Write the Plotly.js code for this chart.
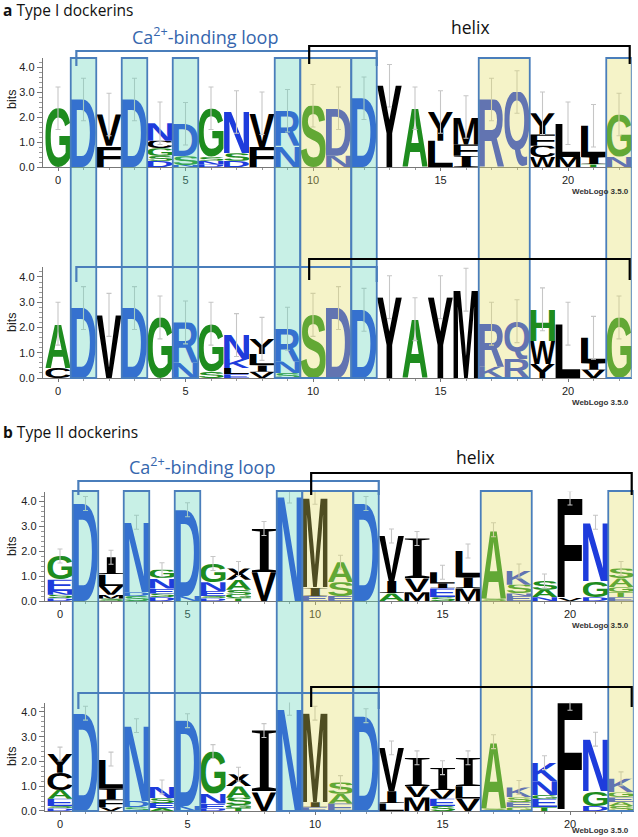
<!DOCTYPE html>
<html>
<head>
<meta charset="utf-8">
<script src="https://cdn.plot.ly/plotly-3.0.1.min.js"></script>
<style>
  body { margin: 0; background: #fff; }
  #chart { width: 638px; height: 837px; }
</style>
</head>
<body>
<div id="chart"></div>
<script>
// Logo columns, bottom to top: [residue, bits]
const positions = Array.from({length: 23}, (_, i) => i);

const typeI_top = [
  [['G', 2.35]],
  [['D', 2.7]],
  [['F', 0.85], ['V', 1.25]],
  [['D', 2.7]],
  [['D', 0.25], ['S', 0.2], ['G', 0.3], ['C', 0.3], ['N', 0.7]],
  [['N', 0.08], ['S', 0.35], ['D', 1.3]],
  [['D', 0.1], ['N', 0.15], ['S', 0.15], ['G', 1.95]],
  [['D', 0.25], ['S', 0.3], ['N', 1.65]],
  [['F', 0.8], ['V', 1.35]],
  [['N', 0.85], ['R', 1.4]],
  [['S', 2.45]],
  [['N', 0.45], ['D', 1.9]],
  [['D', 2.75]],
  [['Y', 3.25]],
  [['A', 2.35]],
  [['L', 1.05], ['Y', 1.15]],
  [['I', 0.45], ['F', 0.45], ['M', 1.1]],
  [['R', 2.7]],
  [['Q', 3.0]],
  [['W', 0.4], ['C', 0.45], ['F', 0.45], ['Y', 0.85]],
  [['M', 0.4], ['L', 1.35]],
  [['T', 0.1], ['I', 0.3], ['L', 1.25]],
  [['N', 0.4], ['G', 1.7]]
];

const typeI_bottom = [
  [['C', 0.4], ['A', 1.75]],
  [['D', 2.77]],
  [['V', 2.5]],
  [['D', 2.77]],
  [['G', 2.4]],
  [['N', 0.6], ['R', 1.6]],
  [['S', 0.25], ['G', 1.9]],
  [['E', 0.15], ['L', 0.25], ['K', 0.35], ['N', 0.95]],
  [['V', 0.25], ['I', 0.25], ['L', 0.45], ['Y', 0.6]],
  [['S', 0.2], ['N', 0.45], ['R', 1.3]],
  [['S', 2.5]],
  [['D', 2.77]],
  [['D', 2.7]],
  [['Y', 3.2]],
  [['A', 2.33]],
  [['Y', 3.2]],
  [['M', 3.5]],
  [['K', 0.45], ['R', 1.7]],
  [['R', 0.75], ['Q', 1.5]],
  [['Y', 0.55], ['W', 0.92], ['H', 1.25]],
  [['L', 2.15]],
  [['V', 0.33], ['I', 0.26], ['L', 1.0]],
  [['G', 2.4]]
];

const typeII_top = [
  [['D', 0.1], ['S', 0.15], ['N', 0.15], ['E', 0.45], ['G', 0.95]],
  [['D', 3.9]],
  [['S', 0.1], ['M', 0.15], ['V', 0.35], ['L', 0.45], ['I', 0.7]],
  [['S', 0.2], ['D', 0.15], ['N', 2.8]],
  [['D', 0.15], ['S', 0.15], ['E', 0.2], ['N', 0.4], ['G', 0.35]],
  [['N', 0.2], ['D', 3.45]],
  [['D', 0.1], ['S', 0.1], ['E', 0.2], ['N', 0.35], ['G', 0.75]],
  [['T', 0.1], ['G', 0.15], ['S', 0.2], ['A', 0.4], ['X', 0.45]],
  [['V', 1.15], ['I', 1.75]],
  [['N', 4.2]],
  [['E', 0.2], ['I', 0.35], ['M', 3.6]],
  [['E', 0.2], ['S', 0.55], ['A', 0.8]],
  [['D', 3.9]],
  [['A', 0.3], ['I', 0.5], ['V', 1.8]],
  [['M', 0.35], ['V', 0.55], ['I', 1.6]],
  [['S', 0.15], ['E', 0.35], ['I', 0.2], ['L', 0.45]],
  [['M', 0.5], ['I', 0.45], ['L', 1.05]],
  [['S', 0.1], ['A', 2.75]],
  [['E', 0.2], ['N', 0.1], ['S', 0.35], ['K', 0.55]],
  [['N', 0.15], ['A', 0.3], ['S', 0.35]],
  [['V', 0.12], ['F', 4.0]],
  [['D', 0.15], ['G', 0.65], ['N', 2.35]],
  [['E', 0.15], ['T', 0.2], ['G', 0.2], ['A', 0.35], ['S', 0.4]]
];

const typeII_bottom = [
  [['D', 0.1], ['S', 0.1], ['E', 0.3], ['A', 0.35], ['C', 0.7], ['Y', 0.75]],
  [['D', 3.95]],
  [['V', 0.15], ['F', 0.3], ['I', 0.45], ['L', 1.2]],
  [['S', 0.15], ['D', 0.25], ['N', 3.05]],
  [['A', 0.12], ['E', 0.2], ['S', 0.2], ['N', 0.45]],
  [['N', 0.2], ['D', 3.45]],
  [['D', 0.1], ['E', 0.2], ['N', 0.4], ['G', 1.7]],
  [['T', 0.12], ['G', 0.12], ['S', 0.3], ['A', 0.45], ['X', 0.5]],
  [['V', 0.75], ['I', 2.5]],
  [['N', 4.15]],
  [['E', 0.15], ['I', 0.2], ['M', 3.6]],
  [['E', 0.3], ['A', 0.4], ['S', 0.45]],
  [['D', 3.85]],
  [['L', 0.3], ['I', 0.5], ['V', 1.75]],
  [['M', 0.55], ['V', 0.45], ['I', 1.15]],
  [['S', 0.2], ['E', 0.3], ['V', 0.35], ['I', 0.9]],
  [['V', 0.5], ['L', 0.5], ['I', 1.15]],
  [['S', 0.1], ['A', 2.7]],
  [['G', 0.15], ['E', 0.2], ['S', 0.2], ['K', 0.4]],
  [['T', 0.15], ['E', 0.35], ['G', 0.15], ['N', 0.55], ['K', 0.75]],
  [['F', 4.35]],
  [['D', 0.2], ['G', 0.6], ['N', 2.1]],
  [['S', 0.2], ['A', 0.15], ['E', 0.2], ['G', 0.2], ['K', 0.55]]
];

// half length of the small-sample error bars (bits), one per logo
const errorHalf = [0.85, 0.85, 0.28, 0.28];

// highlighted columns
const cyanPositions = [1, 3, 5, 9, 12];
const yellowRanges = [[10, 11], [17, 18], [22, 22]];

const xTicks = [0, 5, 10, 15, 20];
const yTicks = [0, 1, 2, 3, 4];

// ---- colours (WebLogo hydrophobicity scheme) ----
const BLUE = '#1e3cdc', GREEN = '#1e8c1e', BLACK = '#000000';
function residueColor(ch) {
  if ('RKDENQ'.includes(ch)) return BLUE;
  if ('SGHTAP'.includes(ch)) return GREEN;
  return BLACK;
}

// ---- letter glyphs as stretched svg images ----
const ctx = document.createElement('canvas').getContext('2d');
const glyphCache = {};
function letterSrc(ch) {
  const color = residueColor(ch);
  const key = ch + color;
  if (glyphCache[key]) return glyphCache[key];
  // WebLogo's I has serifs, so use a serif face for it
  const fam = ch === 'I' ? 'Liberation Serif' : 'Liberation Sans';
  const weight = ch === 'I' ? 'normal' : 'bold';
  ctx.font = `${weight} 100px "${fam}"`;
  const m = ctx.measureText(ch);
  const l = m.actualBoundingBoxLeft, r = m.actualBoundingBoxRight;
  const a = m.actualBoundingBoxAscent, d = m.actualBoundingBoxDescent;
  const w = l + r, h = a + d;
  const svg = `<svg xmlns="http://www.w3.org/2000/svg" width="${w}" height="${h}" viewBox="${-l} ${-a} ${w} ${h}" preserveAspectRatio="none">` +
    `<text x="0" y="0" font-family="${fam}" font-weight="${weight}" font-size="100" fill="${color}">${ch}</text></svg>`;
  glyphCache[key] = 'data:image/svg+xml;base64,' + btoa(svg);
  return glyphCache[key];
}

// ---- page geometry ----
const W = 638, H = 837;
const py = p => 1 - p / H;               // pixel row -> paper y
const panels = [typeI_top, typeI_bottom, typeII_top, typeII_bottom];
const baselinePx = [167, 378, 601, 811];
const bitPx = [25, 25.25, 25, 24.75];
const zeroPx = [58, 58, 60, 60];
const colPx = 25.5;
const yMax = 4.38, xMin = -0.6, xMax = 22.5;
const sfx = i => (i === 0 ? '' : String(i + 1));

const tickFont = {family: 'Liberation Sans, Arial, sans-serif', size: 11, color: '#222'};

const layout = {
  width: W, height: H,
  margin: {l: 0, r: 0, t: 0, b: 0},
  paper_bgcolor: '#fff', plot_bgcolor: 'rgba(0,0,0,0)',
  showlegend: false,
  images: [], shapes: [], annotations: []
};
const traces = [];

panels.forEach((cols, i) => {
  const s = sfx(i);
  layout['xaxis' + s] = {
    domain: [(zeroPx[i] + xMin * colPx) / W, (zeroPx[i] + xMax * colPx) / W],
    range: [xMin, xMax], anchor: 'y' + s, automargin: false,
    tickvals: xTicks, ticks: 'outside', ticklen: 3, tickcolor: '#777',
    showline: true, linecolor: '#777', linewidth: 1,
    zeroline: false, showgrid: false, tickfont: tickFont, fixedrange: true,
    minor: {tick0: 0, dtick: 1, ticks: 'outside', ticklen: 2, tickcolor: '#999', showgrid: false}
  };
  const top = baselinePx[i] - yMax * bitPx[i];
  layout['yaxis' + s] = {
    domain: [py(baselinePx[i]), py(top)],
    range: [0, yMax], anchor: 'x' + s, automargin: false,
    tickvals: yTicks, tickformat: '.1f', ticks: 'outside', ticklen: 5, tickcolor: '#777',
    showline: true, linecolor: '#777', linewidth: 1,
    zeroline: false, showgrid: false, tickfont: tickFont, fixedrange: true,
    minor: {dtick: 0.2, ticks: 'outside', ticklen: 3, tickcolor: '#999', showgrid: false}
  };

  // stacked letters
  const totals = [];
  cols.forEach((stack, pos) => {
    let base = 0;
    stack.forEach(([ch, bits]) => {
      layout.images.push({
        source: letterSrc(ch), xref: 'x' + s, yref: 'y' + s,
        x: positions[pos] - 0.5, y: base + bits, sizex: 1.0, sizey: bits,
        xanchor: 'left', yanchor: 'top', sizing: 'stretch', layer: 'below'
      });
      base += bits;
    });
    totals.push(base);
  });

  // error bars on stack tops
  traces.push({
    type: 'scatter', mode: 'markers', x: positions, y: totals,
    xaxis: 'x' + s, yaxis: 'y' + s, hoverinfo: 'skip', cliponaxis: false,
    marker: {size: 2, color: 'rgba(0,0,0,0)'},
    error_y: {type: 'constant', value: errorHalf[i], color: '#c6c6c6', thickness: 1.1, width: 2.5}
  });
});

// ---- highlighted columns (span both logos of a group) ----
const groups = [{ax: 'x', topPx: 58, botPx: 378}, {ax: 'x3', topPx: 491, botPx: 811}];
const cyanFill = 'rgba(98,212,184,0.35)', yellowFill = 'rgba(226,221,98,0.35)', boxLine = '#4a7ebb';
groups.forEach(g => {
  const boxes = cyanPositions.map(p => [p - 0.5, p + 0.5, cyanFill])
    .concat(yellowRanges.map(([a, b]) => [a - 0.5, b + 0.5, yellowFill]));
  boxes.forEach(([x0, x1, fill]) => {
    layout.shapes.push({type: 'rect', xref: g.ax, yref: 'paper', x0, x1,
      y0: py(g.botPx), y1: py(g.topPx), fillcolor: fill, line: {width: 0}, layer: 'above'});
  });
  boxes.forEach(([x0, x1]) => {
    layout.shapes.push({type: 'rect', xref: g.ax, yref: 'paper', x0, x1,
      y0: py(g.botPx), y1: py(g.topPx), fillcolor: 'rgba(0,0,0,0)',
      line: {color: boxLine, width: 1.8}, layer: 'above'});
  });
});

// ---- brackets: Ca2+-binding loop (blue) and helix (black) ----
const loopSpan = [0.72, 12.5], helixSpan = [9.85, 22.42];
const bracketPx = [
  {ax: 'x', loop: 51, loopEnd: 66, helix: 46, helixEnd: 64},
  {ax: 'x2', loop: 267, loopEnd: 282, helix: 259, helixEnd: 280},
  {ax: 'x3', loop: 481, loopEnd: 495, helix: 473, helixEnd: 495},
  {ax: 'x4', loop: 693, loopEnd: 709, helix: 687, helixEnd: 707}
];
function bracket(ax, span, yLine, yEnd, color) {
  const [a, b] = span;
  return {type: 'path', xref: ax, yref: 'paper', layer: 'above',
    path: `M ${a},${py(yEnd)} L ${a},${py(yLine)} L ${b},${py(yLine)} L ${b},${py(yEnd)}`,
    line: {color, width: 2.2}};
}
bracketPx.forEach(b => {
  layout.shapes.push(bracket(b.ax, loopSpan, b.loop, b.loopEnd, '#4a7ebb'));
  layout.shapes.push(bracket(b.ax, helixSpan, b.helix, b.helixEnd, '#000'));
});

// ---- text ----
const txt = (text, xPx, yPx, font, extra) => Object.assign({
  text, x: xPx / W, y: py(yPx), xref: 'paper', yref: 'paper',
  showarrow: false, xanchor: 'center', yanchor: 'middle', font
}, extra || {});
const headFont = {family: 'Open Sans, Noto Sans, sans-serif', size: 15.5, color: '#111'};
const loopFont = {family: 'Open Sans, Noto Sans, sans-serif', size: 18, color: '#3566ad'};
const helixFont = {family: 'Open Sans, Noto Sans, sans-serif', size: 17.5, color: '#111'};
layout.annotations.push(
  txt('<b>a</b> Type I dockerins', 1, 10, headFont, {xanchor: 'left'}),
  txt('Ca<sup>2+</sup>-binding loop', 205, 36, loopFont),
  txt('helix', 470, 27, helixFont),
  txt('<b>b</b> Type II dockerins', 1, 432, headFont, {xanchor: 'left'}),
  txt('Ca<sup>2+</sup>-binding loop', 202, 466, loopFont),
  txt('helix', 475, 457, helixFont)
);
const bitsPx = [100, 323, 547, 757];
const bitsFont = {family: 'Liberation Sans, Arial, sans-serif', size: 12.5, color: '#222'};
const wlFont = {family: 'Liberation Sans, Arial, sans-serif', size: 8, color: '#333'};
baselinePx.forEach((b, i) => {
  layout.annotations.push(txt('bits', 12, bitsPx[i], bitsFont, {textangle: -90}));
  // just below the "20" tick label; the last one is kept clear of the page edge
  const wlY = Math.min(b + 24, H - 7);
  layout.annotations.push(txt('<b>WebLogo 3.5.0</b>', 631, wlY, wlFont, {xanchor: 'right'}));
});

Plotly.newPlot('chart', traces, layout, {staticPlot: true, displayModeBar: false});
</script>
</body>
</html>
